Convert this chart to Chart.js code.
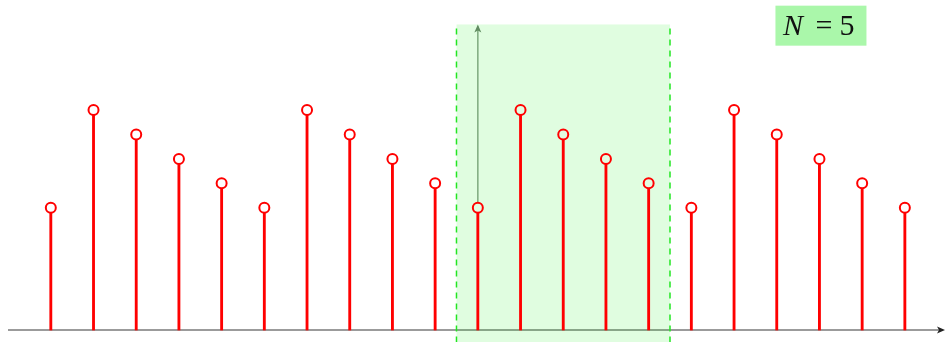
<!DOCTYPE html>
<html>
<head>
<meta charset="utf-8">
<script src="https://cdn.jsdelivr.net/npm/chart.js@4"></script>
<style>
  html, body { margin: 0; padding: 0; background: #fff; }
  #wrap { width: 945px; height: 342px; }
</style>
</head>
<body>
<div id="wrap"><canvas id="grafico"></canvas></div>
<script>
// Secuencia periódica x[n] con periodo N = 5
const indices = [-10, -9, -8, -7, -6, -5, -4, -3, -2, -1, 0, 1, 2, 3, 4, 5, 6, 7, 8, 9, 10];
const valores = [5, 9, 8, 7, 6, 5, 9, 8, 7, 6, 5, 9, 8, 7, 6, 5, 9, 8, 7, 6, 5];
const ventana = [-0.5, 4.5];   // un periodo resaltado
const etiquetaN = '5';

const puntos = indices.map((n, i) => ({ x: n, y: valores[i] }));

// Ejes con flechas, zona sombreada y etiqueta
const decoracion = {
  id: 'decoracion',
  beforeDatasetsDraw(chart) {
    const ctx = chart.ctx;
    const sx = chart.scales.x, sy = chart.scales.y;
    const y0 = sy.getPixelForValue(0);
    const yTop = sy.getPixelForValue(12.5);
    const x0 = sx.getPixelForValue(0);
    ctx.save();

    // eje horizontal
    ctx.strokeStyle = '#7a7a7a';
    ctx.lineWidth = 1.6;
    ctx.beginPath();
    ctx.moveTo(sx.left + 8, y0);
    ctx.lineTo(sx.right - 4, y0);
    ctx.stroke();
    ctx.fillStyle = '#222';
    ctx.beginPath();
    ctx.moveTo(sx.right, y0);
    ctx.lineTo(sx.right - 8, y0 - 3.5);
    ctx.lineTo(sx.right - 6, y0);
    ctx.lineTo(sx.right - 8, y0 + 3.5);
    ctx.closePath();
    ctx.fill();

    // eje vertical en n = 0
    ctx.strokeStyle = '#8f9f8f';
    ctx.lineWidth = 1.5;
    ctx.beginPath();
    ctx.moveTo(x0, y0);
    ctx.lineTo(x0, yTop + 2);
    ctx.stroke();
    ctx.fillStyle = '#6f7f6f';
    ctx.beginPath();
    ctx.moveTo(x0, yTop);
    ctx.lineTo(x0 - 3.5, yTop + 8);
    ctx.lineTo(x0, yTop + 6);
    ctx.lineTo(x0 + 3.5, yTop + 8);
    ctx.closePath();
    ctx.fill();

    // zona sombreada de un periodo
    const xa = sx.getPixelForValue(ventana[0]);
    const xb = sx.getPixelForValue(ventana[1]);
    ctx.fillStyle = 'rgba(0, 235, 0, 0.12)';
    ctx.fillRect(xa, yTop, xb - xa, chart.height - yTop);

    ctx.strokeStyle = '#22e622';
    ctx.lineWidth = 1.5;
    ctx.setLineDash([6, 5]);
    [xa, xb].forEach(function(x) {
      ctx.beginPath();
      ctx.moveTo(x, yTop + 4);
      ctx.lineTo(x, chart.height);
      ctx.stroke();
    });
    ctx.setLineDash([]);

    // etiqueta N = 5
    const cx = sx.getPixelForValue(8) + 1.5;
    const cy = sy.getPixelForValue(12.45);
    ctx.fillStyle = '#aaf7aa';
    ctx.fillRect(cx - 45.5, cy - 20, 91, 40);
    ctx.fillStyle = '#111';
    ctx.textBaseline = 'middle';
    ctx.textAlign = 'left';
    ctx.font = 'italic 30px "Liberation Serif", serif';
    ctx.fillText('N', cx - 38, cy + 1);
    ctx.textAlign = 'center';
    ctx.font = '30px "Liberation Serif", serif';
    ctx.fillText('=', cx + 3, cy + 1);
    ctx.fillText(etiquetaN, cx + 26, cy + 1);
    ctx.restore();
  }
};

const ctx = document.getElementById('grafico').getContext('2d');
new Chart(ctx, {
  data: {
    datasets: [
      {
        type: 'bar',
        data: puntos,
        backgroundColor: '#ff0000',
        barThickness: 2.2,
        borderWidth: 0,
        order: 2
      },
      {
        type: 'line',
        data: puntos,
        showLine: false,
        pointRadius: 5,
        pointBorderWidth: 2,
        pointBorderColor: '#ff0000',
        pointBackgroundColor: puntos.map(p => (p.x > ventana[0] && p.x < ventana[1]) ? '#e2fde2' : '#ffffff'),
        order: 1
      }
    ]
  },
  options: {
    responsive: true,
    maintainAspectRatio: false,
    animation: false,
    layout: { padding: 0, autoPadding: false },
    plugins: { legend: { display: false }, tooltip: { enabled: false } },
    scales: {
      x: { type: 'linear', min: -11.19, max: 10.94, offset: false, display: false },
      y: { type: 'linear', min: -0.49, max: 13.5, display: false }
    }
  },
  plugins: [decoracion]
});
</script>
</body>
</html>
